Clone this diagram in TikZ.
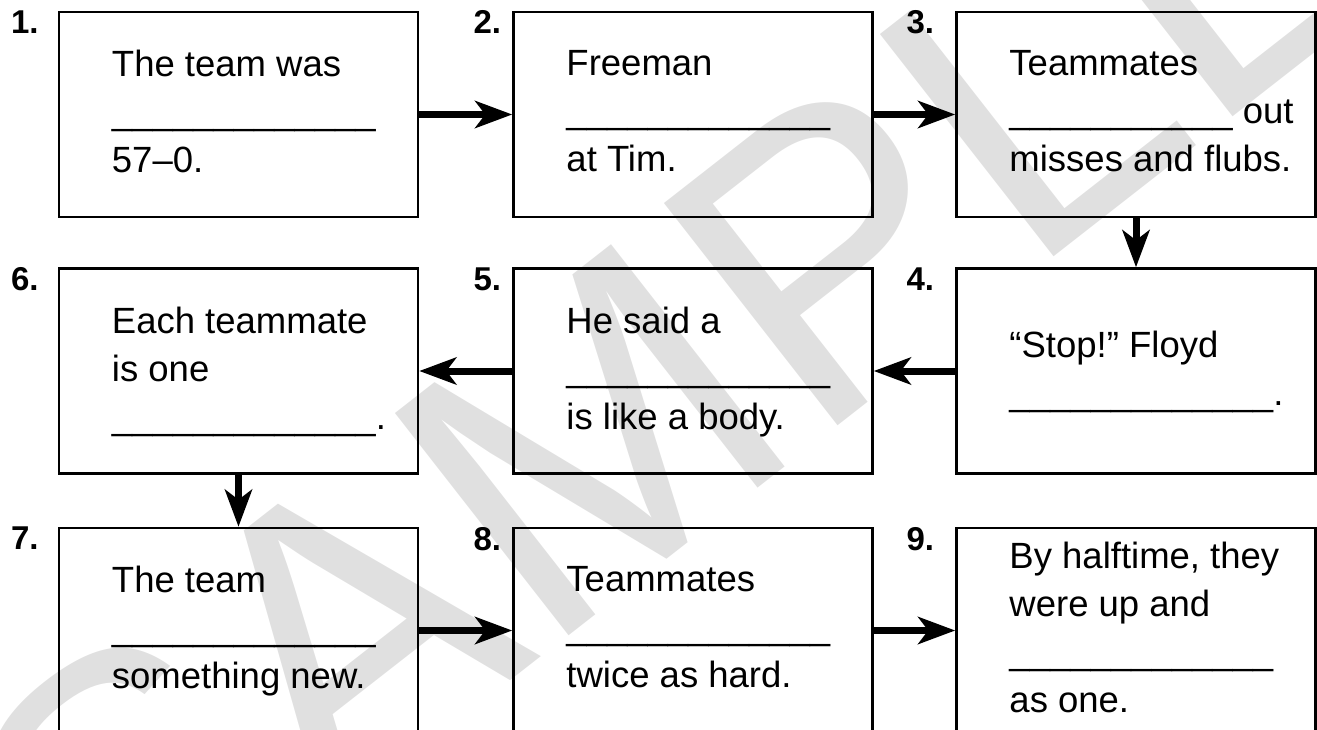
\documentclass[tikz,border=0pt]{standalone}
\usepackage{fontspec}
\setmainfont{Liberation Sans}
\usetikzlibrary{positioning}
\usetikzlibrary{arrows.meta}

\tikzset{
  card/.style={draw, line width=2.5pt, minimum width=359pt, minimum height=205pt, inner sep=0pt},
  cardtext/.style={align=left, inner sep=0pt, yshift=-4pt, font=\fontsize{36.5}{48}\selectfont,
    execute at begin node=\strut, execute at end node=\strut},
  num/.style={inner sep=0pt, font=\fontsize{33}{33}\selectfont\bfseries},
  flow/.style={line width=7pt, -{Stealth[length=37pt, width=27pt, inset=10pt]}},
  stamp/.style={text=black!12, inner sep=0pt, rotate=38, font=\fontsize{410}{410}\selectfont}
}
% row of underscores to fill in
\newcommand{\blank}[1][13]{\foreach \k in {1,...,#1}{\_}}
\frenchspacing

\begin{document}
\begin{tikzpicture}[x=1pt, y=-1pt]
    \useasboundingbox (0,0) rectangle (1317,729);
    \clip (0,0) rectangle (1317,729);
    \node[stamp] (wm) at (680,370) {SAMPLE};

    % row 1
    \node[card] (b1) at (238.5,114.5) {};
    \node[card] (b2) at (693,114.5) {};
    \node[card] (b3) at (1136,114.5) {};
    % row 2
    \node[card] (b6) at (238.5,371) {};
    \node[card] (b5) at (693,371) {};
    \node[card] (b4) at (1136,371) {};
    % row 3
    \node[card] (b7) at (238.5,630.5) {};
    \node[card] (b8) at (693,630.5) {};
    \node[card] (b9) at (1136,630.5) {};

    \node[num, below left=0pt and 19pt of b1.north west] (n1) {1.};
    \node[num, below left=0pt and 11pt of b2.north west] (n2) {2.};
    \node[num, below left=0pt and 21pt of b3.north west] (n3) {3.};
    \node[num, below left=0pt and 21pt of b4.north west] (n4) {4.};
    \node[num, below left=0pt and 11pt of b5.north west] (n5) {5.};
    \node[num, below left=0pt and 19pt of b6.north west] (n6) {6.};
    \node[num, below left=0pt and 19pt of b7.north west] (n7) {7.};
    \node[num, below left=0pt and 11pt of b8.north west] (n8) {8.};
    \node[num, below left=0pt and 21pt of b9.north west] (n9) {9.};

    \node[cardtext, right=54pt of b1.west] (t1) {The team was\\\blank\\57–0.};
    \node[cardtext, right=54pt of b2.west] (t2) {Freeman\\\blank\\at Tim.};
    \node[cardtext, right=54pt of b3.west] (t3) {Teammates\\\blank[11] out\\misses and flubs.};
    \node[cardtext, right=54pt of b4.west] (t4) {“Stop!” Floyd\\\blank.};
    \node[cardtext, right=54pt of b5.west] (t5) {He said a\\\blank\\is like a body.};
    \node[cardtext, right=54pt of b6.west] (t6) {Each teammate\\is one\\\blank.};
    \node[cardtext, right=54pt of b7.west] (t7) {The team\\\blank\\something new.};
    \node[cardtext, right=54pt of b8.west] (t8) {Teammates\\\blank\\twice as hard.};
    \node[cardtext, right=54pt of b9.west] (t9) {By halftime, they\\were up and\\\blank\\as one.};

    \draw[flow] (b1) -- (b2);
    \draw[flow] (b2) -- (b3);
    \draw[flow] (b3) -- (b4);
    \draw[flow] (b4) -- (b5);
    \draw[flow] (b5) -- (b6);
    \draw[flow] (b6) -- (b7);
    \draw[flow] (b7) -- (b8);
    \draw[flow] (b8) -- (b9);
\end{tikzpicture}
\end{document}
